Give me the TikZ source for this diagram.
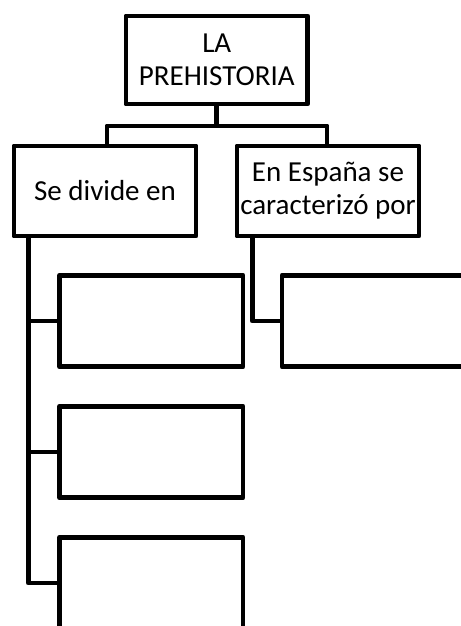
\documentclass[tikz,border=0pt]{standalone}
\usepackage{fontspec}
\setmainfont{Carlito}
\begin{document}
\begin{tikzpicture}[x=0.75pt,y=-0.75pt,line width=3.7pt,line join=round,
  box/.style={draw,line width=3.7pt,inner sep=0pt,align=center,
    font=\fontsize{21.75}{24.6}\selectfont},
  headbox/.style={box,minimum width=136.1pt,minimum height=66pt},
  midbox/.style={box,minimum width=136.5pt,minimum height=67.5pt},
  leafbox/.style={box,minimum width=137.6pt,minimum height=68.6pt}]
\path[use as bounding box] (0,0) rectangle (461,626);
\clip (0,0) rectangle (461,626);
\fill[white] (0,0) rectangle (461,626);
\node[headbox] (top) at (216.75,60) {LA\\PREHISTORIA};
\node[midbox] (c1) at (105,191) {Se divide en};
\node[midbox] (c2) at (328,191) {En España se\\caracterizó por};
\node[leafbox] (b1) at (151.25,321) {};
\node[leafbox] (b2) at (151.25,452) {};
\node[leafbox] (b3) at (151.25,583) {};
\node[leafbox] (r1) at (373.75,321) {};
\coordinate (bar) at (216.75,126);
\draw (top.south) -- (bar);
\draw ([xshift=1.5pt]c1.north) |- (bar) -| ([xshift=-0.75pt]c2.north);
\coordinate (ls) at ([xshift=12.75pt]c1.south west);
\coordinate (rs) at ([xshift=13.5pt]c2.south west);
\draw (ls) |- (b3.west);
\draw (b1.west) -- (b1.west -| ls);
\draw (b2.west) -- (b2.west -| ls);
\draw (rs) |- (r1.west);
\end{tikzpicture}
\end{document}
